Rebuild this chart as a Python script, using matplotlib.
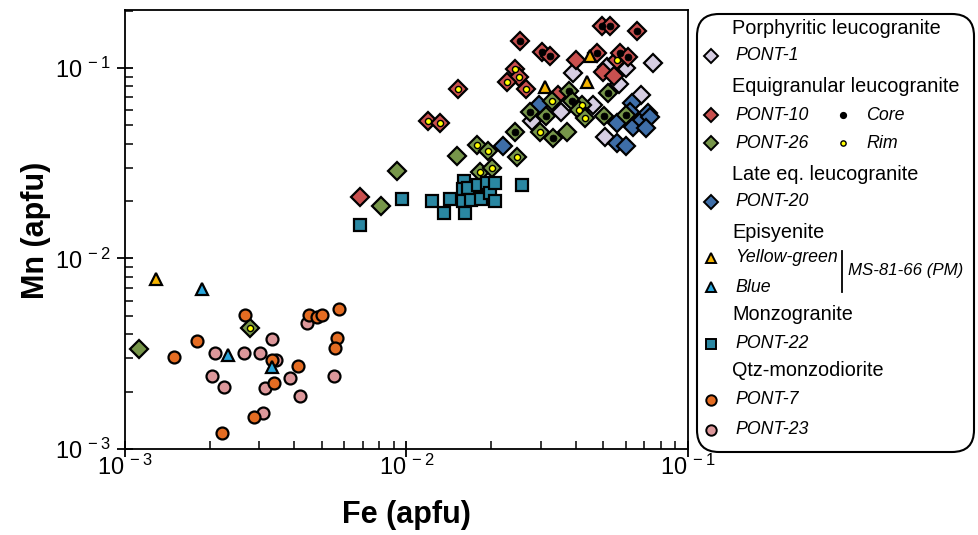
import numpy as np
import matplotlib.pyplot as plt
from matplotlib.patches import FancyBboxPatch
from matplotlib.ticker import FixedLocator, LogLocator, NullFormatter

plt.rcParams['font.family'] = ['Liberation Sans', 'DejaVu Sans']
plt.rcParams['mathtext.fontset'] = 'custom'
plt.rcParams['mathtext.rm'] = 'Liberation Sans'

# Porphyritic leucogranite
pont1_fe = [0.0390, 0.0753, 0.0570, 0.0604, 0.0550, 0.0681, 0.0461, 0.0354, 0.0280, 0.0509, 0.0516]
pont1_mn = [0.0936, 0.106, 0.0824, 0.100, 0.106, 0.0721, 0.0639, 0.0590, 0.0527, 0.0436, 0.101]

# Equigranular leucogranite (zone: c = core, r = rim, n = not given)
pont10_fe = [0.0253, 0.0302, 0.0324, 0.0494, 0.0528, 0.0661, 0.0243, 0.0252, 0.0227, 0.0266, 0.0153,
             0.0119, 0.0132, 0.0400, 0.0474, 0.0498, 0.0546, 0.0560, 0.0573, 0.0614, 0.0346, 0.00684]
pont10_mn = [0.139, 0.121, 0.115, 0.167, 0.167, 0.157, 0.0984, 0.0900, 0.0847, 0.0776, 0.0780,
             0.0529, 0.0516, 0.110, 0.120, 0.0949, 0.0905, 0.110, 0.120, 0.1135, 0.0721, 0.0210]
pont10_zone = ['c', 'c', 'c', 'c', 'c', 'c', 'r', 'r', 'r', 'r', 'r',
               'r', 'r', 'n', 'c', 'n', 'n', 'r', 'c', 'c', 'n', 'n']

pont26_fe = [0.0379, 0.0386, 0.0521, 0.0503, 0.0600, 0.0275, 0.0314, 0.0332, 0.0243,
             0.0328, 0.0420, 0.0410, 0.0431, 0.0298, 0.0178, 0.0195, 0.0246, 0.0183, 0.0201, 0.00278,
             0.0371, 0.0151, 0.00923, 0.00812, 0.00112]
pont26_mn = [0.0760, 0.0674, 0.0737, 0.0563, 0.0567, 0.0588, 0.0563, 0.0427, 0.0461,
             0.0674, 0.0639, 0.0602, 0.0543, 0.0464, 0.0394, 0.0367, 0.0341, 0.0286, 0.0298, 0.0043,
             0.0463, 0.0344, 0.0289, 0.0189, 0.00335]
pont26_zone = ['c'] * 9 + ['r'] * 11 + ['n'] * 5

# Late eq. leucogranite
pont20_fe = [0.0631, 0.0622, 0.0558, 0.0639, 0.0689, 0.0723, 0.0733, 0.0709, 0.0558, 0.0603, 0.0296, 0.0220]
pont20_mn = [0.0653, 0.0590, 0.0513, 0.0492, 0.0533, 0.0578, 0.0553, 0.0483, 0.0406, 0.0390, 0.0639, 0.0390]

# Episyenite MS-81-66 (PM)
yellow_fe = [0.0310, 0.0449, 0.0437, 0.00129]
yellow_mn = [0.0792, 0.116, 0.0847, 0.0078]
blue_fe = [0.00187, 0.00232, 0.00332]
blue_mn = [0.0069, 0.00310, 0.00268]

# Monzogranite
pont22_fe = [0.00684, 0.00966, 0.01235, 0.0136, 0.0143, 0.0160, 0.0159, 0.0159, 0.0162,
             0.0165, 0.0169, 0.0180, 0.0184, 0.0193, 0.0198, 0.0206, 0.0207, 0.0257]
pont22_mn = [0.0150, 0.0205, 0.0201, 0.0173, 0.0205, 0.0255, 0.0232, 0.0201, 0.0174,
             0.0234, 0.0202, 0.0243, 0.0205, 0.0248, 0.0220, 0.0248, 0.0201, 0.0243]

# Qtz-monzodiorite
pont7_fe = [0.00267, 0.00180, 0.00149, 0.00332, 0.00413, 0.00337, 0.00287, 0.00222,
            0.00450, 0.00482, 0.00500, 0.00576, 0.00568, 0.00559]
pont7_mn = [0.00505, 0.00370, 0.00303, 0.00293, 0.00273, 0.00221, 0.00148, 0.00122,
            0.00505, 0.00495, 0.00505, 0.00541, 0.00384, 0.00338]
pont23_fe = [0.00209, 0.00264, 0.00301, 0.00333, 0.00344, 0.00204, 0.00225, 0.00314,
             0.00385, 0.00418, 0.00310, 0.00443, 0.00553]
pont23_mn = [0.00318, 0.00318, 0.00318, 0.00377, 0.00293, 0.00242, 0.00212, 0.00208,
             0.00237, 0.00190, 0.00154, 0.00457, 0.00242]

c_lav = '#d6cde2'
c_red = '#c9504f'
c_green = '#77964a'
c_blue = '#3e6ea8'
c_yel = '#f6b400'
c_lblue = '#29a6dc'
c_teal = '#2a87a2'
c_orange = '#e46c22'
c_pink = '#dc979a'

EW = 1.6


def diamonds(ax, fe, mn, color, zone=None):
    ax.plot(fe, mn, 'D', ms=9.4, mfc=color, mec='k', mew=EW, ls='none')
    if zone is None:
        return
    fe, mn, zone = np.array(fe), np.array(mn), np.array(zone)
    c = zone == 'c'
    ax.plot(fe[c], mn[c], 'o', ms=5, mfc='k', mec='k', mew=0.5, ls='none')
    r = zone == 'r'
    ax.plot(fe[r], mn[r], 'o', ms=4.4, mfc='#ffff00', mec='k', mew=1.0, ls='none')


fig = plt.figure(figsize=(9.79, 5.35), dpi=100)
ax = fig.add_axes([125 / 979, 86 / 535, 563 / 979, 439 / 535])
ax.set_xscale('log')
ax.set_yscale('log')

diamonds(ax, pont1_fe, pont1_mn, c_lav)
diamonds(ax, pont20_fe, pont20_mn, c_blue)
diamonds(ax, pont10_fe, pont10_mn, c_red, pont10_zone)
diamonds(ax, pont26_fe, pont26_mn, c_green, pont26_zone)
ax.plot(pont22_fe, pont22_mn, 's', ms=8.6, mfc=c_teal, mec='k', mew=EW, ls='none')
ax.plot(pont23_fe, pont23_mn, 'o', ms=8.6, mfc=c_pink, mec='k', mew=EW, ls='none')
ax.plot(pont7_fe, pont7_mn, 'o', ms=8.6, mfc=c_orange, mec='k', mew=EW, ls='none')
ax.plot(yellow_fe, yellow_mn, '^', ms=9, mfc=c_yel, mec='k', mew=EW, ls='none')
ax.plot(blue_fe, blue_mn, '^', ms=9, mfc=c_lblue, mec='k', mew=EW, ls='none')

for s in ax.spines.values():
    s.set_linewidth(1.3)

majors = [1e-3, 1e-2, 1e-1]
labels = [r'$\mathregular{10^{\,-3}}$', r'$\mathregular{10^{\,-2}}$', r'$\mathregular{10^{\,-1}}$']
for axis in (ax.xaxis, ax.yaxis):
    axis.set_major_locator(FixedLocator(majors))
    axis.set_minor_locator(LogLocator(base=10, subs=np.arange(2, 10)))
    axis.set_minor_formatter(NullFormatter())
ax.set_xticks(majors, labels)
ax.set_yticks(majors, labels)
ax.set_xlim(1e-3, 1e-1)
ax.set_ylim(1e-3, 0.2015)
ax.tick_params(which='major', direction='inout', length=12, width=1.3, labelsize=17)
ax.tick_params(axis='y', which='major', pad=4)
ax.tick_params(axis='x', which='major', pad=-2)
ax.tick_params(which='minor', direction='in', length=6, width=1.1)

fig.text(406 / 979, 1 - 515 / 535, 'Fe (apfu)', fontsize=22, fontweight='bold', ha='center', va='center')
fig.text(36 / 979, 1 - 230 / 535, 'Mn (apfu)', fontsize=22, fontweight='bold', ha='center', va='center',
         rotation=90)

# legend panel, drawn in figure pixel coordinates
lg = fig.add_axes([0, 0, 1, 1], facecolor='none')
lg.set_xlim(0, 979)
lg.set_ylim(535, 0)
lg.axis('off')
lg.add_patch(FancyBboxPatch((697, 14), 277, 438, boxstyle='round,pad=0,rounding_size=22',
                            fc='white', ec='k', lw=1.5))

FS_HEAD = 14.3
FS_IT = 12.8
mx, tx = 711, 735


def head(y, s):
    lg.text(tx - 3, y, s, fontsize=FS_HEAD, va='center', ha='left')


def entry(y, s, marker, color, ms):
    lg.plot([mx], [y], marker, ms=ms, mfc=color, mec='k', mew=1.4)
    lg.text(tx, y, s, fontsize=FS_IT, style='italic', va='center', ha='left')


head(29, 'Porphyritic leucogranite')
entry(56, 'PONT-1', 'D', c_lav, 7.5)
head(86, 'Equigranular leucogranite')
entry(115, 'PONT-10', 'D', c_red, 7.5)
entry(143, 'PONT-26', 'D', c_green, 7.5)
lg.plot([843], [115], 'o', ms=4.2, mfc='k', mec='k')
lg.plot([843], [143], 'o', ms=3.8, mfc='#ffff00', mec='k', mew=1.0)
lg.text(866, 115, 'Core', fontsize=FS_IT, style='italic', va='center')
lg.text(866, 143, 'Rim', fontsize=FS_IT, style='italic', va='center')
head(175, 'Late eq. leucogranite')
entry(202, 'PONT-20', 'D', c_blue, 7.5)
head(232, 'Episyenite')
entry(258, 'Yellow-green', '^', c_yel, 7.5)
entry(287, 'Blue', '^', c_lblue, 7.5)
lg.plot([842, 842], [251, 292], color='k', lw=1.3)
lg.text(848, 270, 'MS-81-66 (PM)', fontsize=FS_IT - 0.6, style='italic', va='center')
head(315, 'Monzogranite')
entry(344, 'PONT-22', 's', c_teal, 7.5)
head(371, 'Qtz-monzodiorite')
entry(400, 'PONT-7', 'o', c_orange, 7.5)
entry(430, 'PONT-23', 'o', c_pink, 7.5)

fig.savefig('out.png', dpi=100)
